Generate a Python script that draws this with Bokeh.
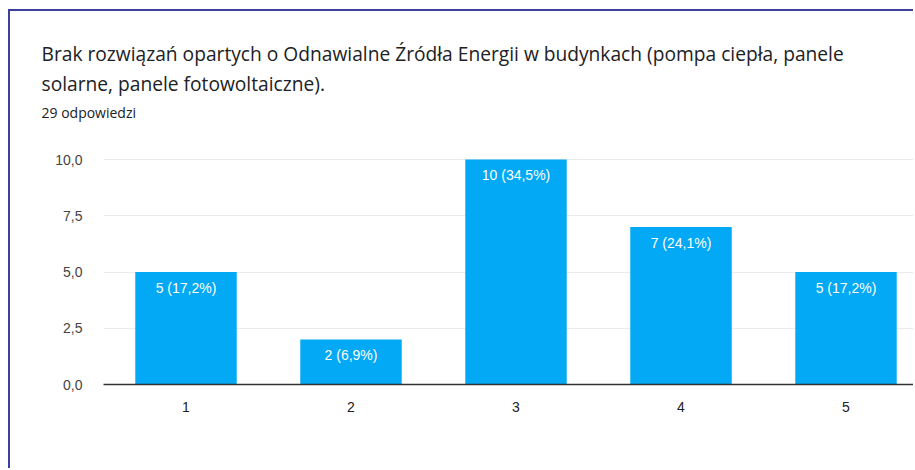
from bokeh.plotting import figure
from bokeh.models import Range1d, FixedTicker, Title, ColumnDataSource
from bokeh.embed import file_html
from bokeh.resources import INLINE
from bokeh.core.properties import value

# ---- data ----
title_lines = [
    "Brak rozwiązań opartych o Odnawialne Źródła Energii w budynkach (pompa ciepła, panele",
    "solarne, panele fotowoltaiczne).",
]
subtitle = "29 odpowiedzi"
categories = [1, 2, 3, 4, 5]
category_labels = ["1", "2", "3", "4", "5"]
counts = [5, 2, 10, 7, 5]
bar_labels = ["5 (17,2%)", "2 (6,9%)", "10 (34,5%)", "7 (24,1%)", "5 (17,2%)"]
ytick_values = [0, 2.5, 5, 7.5, 10]
ytick_labels = ["0,0", "2,5", "5,0", "7,5", "10,0"]

OX, OY = 10, 11            # canvas origin on the page (card border drawn via CSS)
W, H = 915 - OX, 470 - OY
PX_X = 165.0               # pixels per category
PX_Y = 22.5                # pixels per unit
FL, FT, FB = 103 - OX, 124 - OY, 384 - OY

p = figure(width=W, height=H, output_backend="svg", toolbar_location=None,
           x_range=Range1d(0.5, 0.5 + (W - 2 - FL) / PX_X),
           y_range=Range1d(0, (FB - FT) / PX_Y),
           min_border_left=FL, min_border_right=2, min_border_top=FT, min_border_bottom=H - FB)
p.styles = {"margin-left": "8px", "margin-top": "9px",
            "border-left": "2px solid #3c41a0", "border-top": "2px solid #3c41a0",
            "border-right": "0px none transparent", "border-bottom": "0px none transparent",
            "outline": "none"}
p.outline_line_color = None
p.background_fill_color = "white"
p.border_fill_color = "white"
p.title.text = ""

src = ColumnDataSource(dict(x=categories, top=counts, lab=bar_labels))
p.vbar(x="x", top="top", width=0.615, source=src, fill_color="#03a9f4", line_color=None)
p.text(x="x", y="top", text="lab", source=src, text_align="center", text_baseline="alphabetic",
       y_offset=15.5, text_color="white", text_font=value("Liberation Sans"), text_font_size="14px")

# axes
p.xaxis.ticker = FixedTicker(ticks=categories)
p.xaxis.major_label_overrides = {c: l for c, l in zip(categories, category_labels)}
p.xaxis.major_tick_line_color = None
p.xaxis.minor_tick_line_color = None
p.xaxis.axis_line_color = "#333333"
p.xaxis.axis_line_width = 1.5
p.xaxis.major_label_standoff = 11
p.xaxis.major_label_text_font = "Liberation Sans"
p.xaxis.major_label_text_font_size = "14px"
p.xaxis.major_label_text_color = "#222222"

p.yaxis.ticker = FixedTicker(ticks=ytick_values)
p.yaxis.major_label_overrides = {v: l for v, l in zip(ytick_values, ytick_labels)}
p.yaxis.major_tick_line_color = None
p.yaxis.minor_tick_line_color = None
p.yaxis.axis_line_color = None
p.yaxis.major_label_standoff = 15
p.yaxis.major_label_text_font = "Liberation Sans"
p.yaxis.major_label_text_font_size = "14px"
p.yaxis.major_label_text_color = "#444444"

p.xgrid.grid_line_color = None
p.ygrid.ticker = FixedTicker(ticks=ytick_values)
p.ygrid.grid_line_color = "#ebebeb"
p.ygrid.grid_line_width = 1

# title texts (added from nearest the plot outward)
for txt, fs, so in [(subtitle, "14px", 6),
                    (title_lines[1], "19.2px", 1),
                    (title_lines[0], "19.2px", 1)]:
    p.add_layout(Title(text=txt, align="left", offset=-(FL - (41 - OX)), standoff=so,
                       text_font="Open Sans", text_font_size=fs, text_font_style="normal",
                       text_color="#202124"), "above")

open("out.html", "w").write(file_html(p, INLINE))
